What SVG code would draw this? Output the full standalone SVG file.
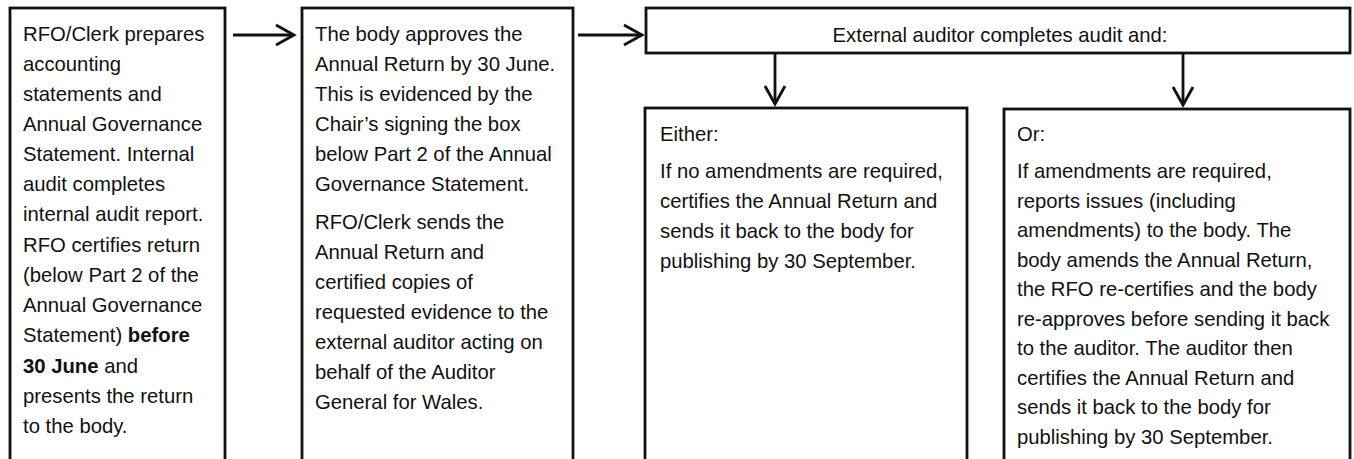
<svg xmlns="http://www.w3.org/2000/svg" width="1354" height="459" viewBox="0 0 1354 459">
<style>
.box{fill:#fff;stroke:#111;stroke-width:2.8}
.t{font-family:"Liberation Sans",Arial,sans-serif;font-size:20.3px;fill:#111}
.b{font-weight:bold}
.conn{stroke:#111;stroke-width:2.8;fill:none}
</style>
<defs>
<marker id="arr" markerUnits="userSpaceOnUse" markerWidth="26" markerHeight="26" viewBox="-22 -13 26 26" refX="0" refY="0" orient="auto">
<path d="M-18,-10 L0,0 L-18,10" fill="none" stroke="#111" stroke-width="2.8"/>
</marker>
</defs>
<rect width="1354" height="459" fill="#fff"/>
<g id="node1">
<rect class="box" x="10" y="8" width="215" height="465"/>
<text class="t">
<tspan x="23" y="41">RFO/Clerk prepares</tspan>
<tspan x="23" y="71">accounting</tspan>
<tspan x="23" y="101">statements and</tspan>
<tspan x="23" y="131">Annual Governance</tspan>
<tspan x="23" y="161">Statement. Internal</tspan>
<tspan x="23" y="191">audit completes</tspan>
<tspan x="23" y="221">internal audit report.</tspan>
<tspan x="23" y="252">RFO certifies return</tspan>
<tspan x="23" y="282">(below Part 2 of the</tspan>
<tspan x="23" y="312">Annual Governance</tspan>
<tspan x="23" y="342">Statement) <tspan class="b">before</tspan></tspan>
<tspan x="23" y="373"><tspan class="b">30 June</tspan> and</tspan>
<tspan x="23" y="403">presents the return</tspan>
<tspan x="23" y="433">to the body.</tspan>
</text>
</g>
<g id="node2">
<rect class="box" x="302" y="8" width="271" height="465"/>
<text class="t">
<tspan x="315" y="41">The body approves the</tspan>
<tspan x="315" y="71">Annual Return by 30 June.</tspan>
<tspan x="315" y="101">This is evidenced by the</tspan>
<tspan x="315" y="131">Chair’s signing the box</tspan>
<tspan x="315" y="161">below Part 2 of the Annual</tspan>
<tspan x="315" y="191">Governance Statement.</tspan>
<tspan x="315" y="229">RFO/Clerk sends the</tspan>
<tspan x="315" y="259">Annual Return and</tspan>
<tspan x="315" y="289">certified copies of</tspan>
<tspan x="315" y="319">requested evidence to the</tspan>
<tspan x="315" y="349">external auditor acting on</tspan>
<tspan x="315" y="379">behalf of the Auditor</tspan>
<tspan x="315" y="409">General for Wales.</tspan>
</text>
</g>
<g id="node3">
<rect class="box" x="646" y="8" width="704" height="45"/>
<text class="t" x="1000" y="42" text-anchor="middle">External auditor completes audit and:</text>
</g>
<g id="node4">
<rect class="box" x="645" y="108" width="322" height="365"/>
<text class="t">
<tspan x="660" y="141">Either:</tspan>
<tspan x="660" y="178">If no amendments are required,</tspan>
<tspan x="660" y="208">certifies the Annual Return and</tspan>
<tspan x="660" y="238">sends it back to the body for</tspan>
<tspan x="660" y="268">publishing by 30 September.</tspan>
</text>
</g>
<g id="node5">
<rect class="box" x="1004" y="109" width="346" height="365"/>
<text class="t">
<tspan x="1017" y="141">Or:</tspan>
<tspan x="1017" y="178">If amendments are required,</tspan>
<tspan x="1017" y="208">reports issues (including</tspan>
<tspan x="1017" y="237">amendments) to the body. The</tspan>
<tspan x="1017" y="267">body amends the Annual Return,</tspan>
<tspan x="1017" y="296">the RFO re-certifies and the body</tspan>
<tspan x="1017" y="326">re-approves before sending it back</tspan>
<tspan x="1017" y="355">to the auditor. The auditor then</tspan>
<tspan x="1017" y="385">certifies the Annual Return and</tspan>
<tspan x="1017" y="414">sends it back to the body for</tspan>
<tspan x="1017" y="444">publishing by 30 September.</tspan>
</text>
</g>
<g id="connectors">
<line class="conn" x1="233" y1="35" x2="294" y2="35" marker-end="url(#arr)"/>
<line class="conn" x1="578" y1="35" x2="642" y2="35" marker-end="url(#arr)"/>
<line class="conn" x1="775" y1="53" x2="775" y2="104" marker-end="url(#arr)"/>
<line class="conn" x1="1183" y1="53" x2="1183" y2="105" marker-end="url(#arr)"/>
</g>
</svg>
